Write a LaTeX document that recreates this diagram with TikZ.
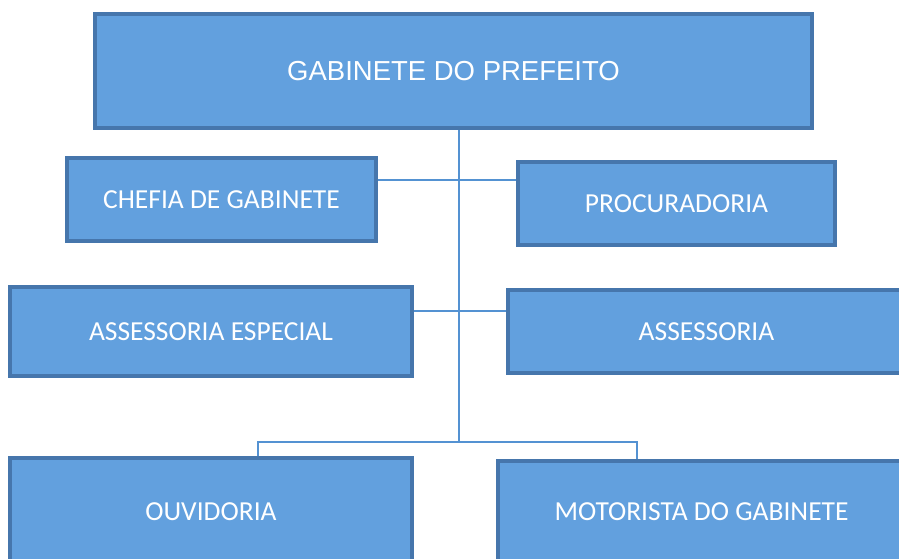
\documentclass[tikz,border=0pt]{standalone}
\usepackage{fontspec}
\setmainfont{Carlito}
\newfontfamily\headfont{Liberation Sans}
\definecolor{boxfill}{RGB}{98,160,222}
\definecolor{boxedge}{RGB}{70,118,172}
\definecolor{linkblue}{RGB}{84,146,210}

\begin{document}
\begin{tikzpicture}
  [x=1pt, y=-1pt,
   orgbox/.style={fill=boxfill, draw=boxedge, line width=3.5pt, text=white,
                  font=\fontsize{27.5}{30}\selectfont, inner sep=0pt},
   link/.style={draw=linkblue, line width=2pt}]
  \useasboundingbox (0,0) rectangle (899,558);
  \clip (0,0) rectangle (899,558);

  % boxes
  \node (gabinete) [orgbox, minimum width=717, minimum height=114,
        font=\headfont\fontsize{27.5}{30}\selectfont] at (453.5,71) {GABINETE DO PREFEITO};
  \node (chefia) [orgbox, minimum width=309, minimum height=83] at (221.5,199.5) {CHEFIA DE GABINETE};
  \node (procur) [orgbox, minimum width=317, minimum height=83] at (676.5,203.5) {PROCURADORIA};
  \node (assesp) [orgbox, minimum width=402, minimum height=89] at (211,331.5) {ASSESSORIA ESPECIAL};
  \node (assess) [orgbox, minimum width=397, minimum height=83] at (706.5,331.5) {ASSESSORIA};
  \node (ouvid) [orgbox, minimum width=402, minimum height=108] at (211,512) {OUVIDORIA};
  \node (motor) [orgbox, minimum width=407, minimum height=102] at (701.5,512) {MOTORISTA DO GABINETE};

  % connectors
  \coordinate (hubA) at (459,180);
  \coordinate (hubB) at (459,311);
  \coordinate (trunk) at (459,442);
  \coordinate (dropL) at (258,442);
  \coordinate (dropR) at (637,442);
  \draw [link] (gabinete.south -| trunk) -- (trunk);
  \draw [link] (chefia.east |- hubA) -- (procur.west |- hubA);
  \draw [link] (assesp.east |- hubB) -- (assess.west |- hubB);
  \draw [link] (dropL |- ouvid.north) -- (dropL) -- (dropR) -- (dropR |- motor.north);
\end{tikzpicture}
\end{document}
